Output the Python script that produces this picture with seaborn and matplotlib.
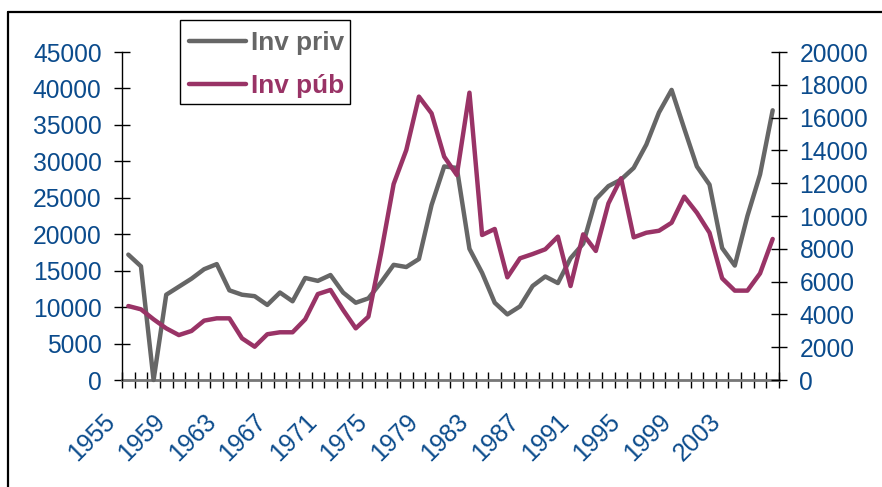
import numpy as np
import pandas as pd
import seaborn as sns
import matplotlib.pyplot as plt
from matplotlib.lines import Line2D
from matplotlib.patches import Rectangle
from matplotlib.transforms import ScaledTranslation

# Data
years = list(range(1955, 2007))
inv_priv = [17200, 15600, 0, 11700, 12800, 13900, 15200, 15900, 12300, 11700,
            11500, 10300, 12000, 10800, 14000, 13600, 14400, 12000, 10600, 11200,
            13400, 15800, 15500, 16600, 24000, 29300, 29100, 18000, 14700, 10600,
            9000, 10100, 12900, 14200, 13300, 16700, 18700, 24800, 26600, 27500,
            29100, 32300, 36700, 39800, 34500, 29300, 26800, 18100, 15700, 22500,
            28200, 37000]
inv_pub = [4510, 4310, 3700, 3150, 2740, 2990, 3620, 3760, 3760, 2540,
           2030, 2790, 2910, 2910, 3700, 5240, 5490, 4270, 3150, 3860,
           7720, 11950, 14020, 17280, 16260, 13620, 12500, 17520, 8840, 9210,
           6260, 7420, 7680, 7970, 8740, 5730, 8880, 7870, 10770, 12300,
           8700, 8980, 9100, 9590, 11180, 10200, 8980, 6200, 5450, 5450,
           6500, 8600]
left_ticks = [0, 5000, 10000, 15000, 20000, 25000, 30000, 35000, 40000, 45000]
right_ticks = [0, 2000, 4000, 6000, 8000, 10000, 12000, 14000, 16000, 18000, 20000]
label_years = [1955, 1959, 1963, 1967, 1971, 1975, 1979, 1983, 1987, 1991, 1995, 1999, 2003]

df = pd.DataFrame({"year": years, "Inv priv": inv_priv, "Inv púb": inv_pub})

GRAY = "#666666"
PLUM = "#993366"
BLUE = "#0b4b8c"

sns.set_theme(style="white")
plt.rcParams["font.family"] = ["Liberation Sans", "DejaVu Sans"]

fig = plt.figure(figsize=(8.82, 4.87), dpi=100)
ax = fig.add_axes([122 / 882, 107 / 487, 657 / 882, 328 / 487])
ax2 = ax.twinx()

sns.lineplot(data=df, x="year", y="Inv priv", ax=ax, color=GRAY, lw=3.2,
             label="Inv priv", legend=False, clip_on=False)
sns.lineplot(data=df, x="year", y="Inv púb", ax=ax2, color=PLUM, lw=3.2,
             label="Inv púb", legend=False)

ax.set_xlim(years[0] - 0.5, years[-1] + 0.5)
ax.set_ylim(0, 45000)
ax2.set_ylim(0, 20000)

# category boundaries carry the tick marks, labels sit on the category centres
ax.set_xticks(np.arange(years[0] - 0.5, years[-1] + 1, 1.0))
ax.set_xticklabels([])
ax.set_xticks(label_years, minor=True)
ax.set_xticklabels([str(y) for y in label_years], minor=True, rotation=45,
                   ha="right", va="top")
ax.tick_params(axis="x", which="major", direction="inout", length=11.5,
               width=1, color="black", bottom=True)
ax.tick_params(axis="x", which="minor", length=0, pad=21, labelsize=17.9,
               labelcolor=BLUE)
offset = ScaledTranslation(-9 / 100, 0, fig.dpi_scale_trans)
for lab in ax.get_xticklabels(minor=True):
    lab.set_transform(lab.get_transform() + offset)

ax.set_yticks(left_ticks)
ax.set_yticklabels([str(v) for v in left_ticks])
ax2.set_yticks(right_ticks)
ax2.set_yticklabels([str(v) for v in right_ticks])
for a, side in ((ax, "left"), (ax2, "right")):
    a.tick_params(axis="y", direction="inout", length=11.5, width=1,
                  color="black", labelsize=17.7, labelcolor=BLUE, pad=9,
                  left=(side == "left"), right=(side == "right"))
    a.set_xlabel("")
    a.set_ylabel("")
    for s in a.spines.values():
        s.set_visible(False)

ax.spines["left"].set_visible(True)
ax.spines["left"].set_color("black")
ax.spines["left"].set_linewidth(1)
ax2.spines["right"].set_visible(True)
ax2.spines["right"].set_color("black")
ax2.spines["right"].set_linewidth(1)
ax.spines["bottom"].set_visible(True)
ax.spines["bottom"].set_color("#777777")
ax.spines["bottom"].set_linewidth(2)
ax.spines["bottom"].set_zorder(1)

# legend without its own frame; box drawn separately to match the reference size
handles = [Line2D([], [], color=GRAY, lw=3.2), Line2D([], [], color=PLUM, lw=3.2)]
leg = fig.legend(handles, ["Inv priv", "Inv púb"], loc="upper left",
                 bbox_to_anchor=(179.5 / 882, 1 - 22 / 487),
                 prop={"size": 18.8, "weight": "bold"}, frameon=False,
                 borderaxespad=0, borderpad=0.35, handlelength=2.2,
                 handletextpad=0.2, labelspacing=0.72, labelcolor="linecolor")
fig.add_artist(Rectangle((179.5 / 882, 1 - 103.5 / 487), 170 / 882, 84 / 487,
                         transform=fig.transFigure, fill=False,
                         edgecolor="black", lw=1))

# outer frame (only top and left edges fall inside the picture)
fig.add_artist(Line2D([7.5 / 882, 1], [1 - 11.5 / 487] * 2, color="black", lw=1.6,
                      transform=fig.transFigure))
fig.add_artist(Line2D([7.5 / 882] * 2, [0, 1 - 11.5 / 487], color="black", lw=1.6,
                      transform=fig.transFigure))

fig.savefig("out.png", dpi=100)
